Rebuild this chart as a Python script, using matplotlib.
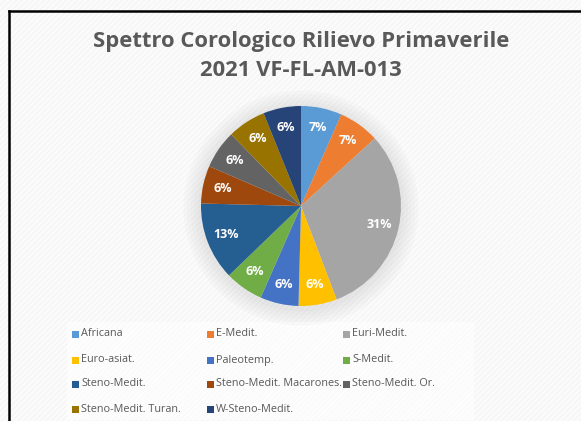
import matplotlib.pyplot as plt
from matplotlib.patches import Rectangle, Circle
from matplotlib.lines import Line2D

# chorological spectrum data (percentages)
categories = [
    "Africana", "E-Medit.", "Euri-Medit.", "Euro-asiat.", "Paleotemp.",
    "S-Medit.", "Steno-Medit.", "Steno-Medit. Macarones.", "Steno-Medit. Or.",
    "Steno-Medit. Turan.", "W-Steno-Medit.",
]
values = [6.6, 6.6, 31.0, 6.2, 6.2, 6.2, 12.6, 6.1, 6.2, 6.2, 6.1]
colors = [
    "#5B9BD5", "#ED7D31", "#A5A5A5", "#FFC000", "#4472C4", "#70AD47",
    "#255E91", "#9E480E", "#636363", "#997300", "#264478",
]

W, H = 581, 421
fig = plt.figure(figsize=(W / 100, H / 100), dpi=100)
fig.patch.set_facecolor("white")

# background with faint diagonal texture
plt.rcParams["hatch.linewidth"] = 0.6
bg = Rectangle((0, 0), 1, 1, transform=fig.transFigure, facecolor="#fbfbfb",
               edgecolor="#f2f2f2", hatch="//////", linewidth=0, zorder=-10)
fig.patches.append(bg)

# frame lines (left and top only visible)
fig.add_artist(Line2D([8.5 / W, 8.5 / W], [0, 1 - 10.5 / H], color="black", lw=1.8))
fig.add_artist(Line2D([8.5 / W, 1], [1 - 10.5 / H, 1 - 10.5 / H], color="black", lw=1.8))

# title
title_color = "#595959"
fig.text(301 / W, 1 - 41 / H, "Spettro Corologico Rilievo Primaverile",
         ha="center", va="center", fontsize=15.8, fontweight="bold",
         family="Open Sans", color=title_color)
fig.text(301 / W, 1 - 71 / H, "2021 VF-FL-AM-013",
         ha="center", va="center", fontsize=15.8, fontweight="bold",
         family="Open Sans", color=title_color)

# pie
cx, cy, r = 301, 206, 100
ax = fig.add_axes([(cx - r) / W, (H - cy - r) / H, 2 * r / W, 2 * r / H])
ax.set_facecolor("none")

# soft shadow
for i in range(5):
    ax.add_patch(Circle((0, -0.02), 1.0 + 0.035 * (i + 1), color="#9a9a9a",
                        alpha=0.045, lw=0, zorder=0, clip_on=False))

wedges, texts, autotexts = ax.pie(
    values,
    colors=colors,
    startangle=90,
    counterclock=False,
    autopct="%.0f%%",
    pctdistance=0.8,
    wedgeprops=dict(linewidth=0),
    textprops=dict(color="white", fontsize=9, fontweight="bold", family="Open Sans"),
)
for w in wedges:
    w.set_zorder(2)
for t in autotexts:
    t.set_zorder(3)
ax.set_xlim(-1, 1)
ax.set_ylim(-1, 1)
ax.set_aspect("equal")
ax.axis("off")

# legend laid out as 3 columns
legend_bg = Rectangle((67 / W, 1 - 420 / H), (474 - 67) / W, (420 - 322) / H,
                      transform=fig.transFigure, facecolor="white", alpha=0.6,
                      edgecolor="none", zorder=-5)
fig.patches.append(legend_bg)
col_x = [72, 207, 343]
row_y = [334, 360, 384, 409]
for i, (lab, col) in enumerate(zip(categories, colors)):
    x = col_x[i % 3]
    y = row_y[i // 3]
    fig.patches.append(Rectangle((x / W, 1 - (y + 3.5) / H), 6.5 / W, 6.5 / H,
                                 transform=fig.transFigure, facecolor=col,
                                 edgecolor="none"))
    fig.text((x + 9) / W, 1 - y / H, lab, ha="left", va="center",
             fontsize=7.8, family="Open Sans", color="#595959")

fig.savefig("out.png", dpi=100)
